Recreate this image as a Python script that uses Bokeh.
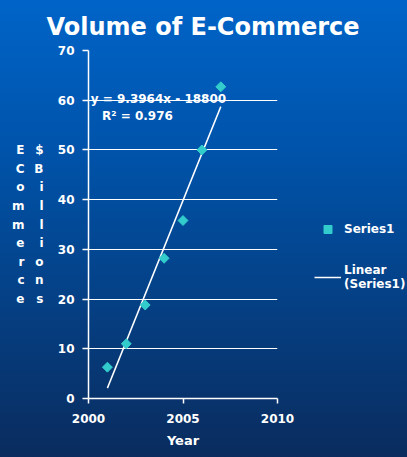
import numpy as np
from bokeh.plotting import figure
from bokeh.models import Label, Legend, LegendItem, FixedTicker, Range1d, LinearAxis
from bokeh.embed import file_html
from bokeh.resources import INLINE

# ---- data ----
years = [2001, 2002, 2003, 2004, 2005, 2006, 2007]
volume = [6.3, 11.0, 18.8, 28.2, 35.8, 50.0, 62.7]
x_ticks = [2000, 2005, 2010]
y_ticks = [0, 10, 20, 30, 40, 50, 60, 70]
title_text = "Volume of E-Commerce"
x_label = "Year"
y_label_1 = "ECommerce"
y_label_2 = "$Billions"
eq_text = "y = 9.3964x - 18800"
r2_text = "R\u00b2 = 0.976"
series_name = "Series1"
trend_name = "Linear\n(Series1)"

FONT = "DejaVu Sans"
WHITE = "#FFFFFF"
TEAL = "#33CCCC"

p = figure(frame_width=189, frame_height=348, output_backend="svg", toolbar_location=None,
           x_range=Range1d(2000, 2010), y_range=Range1d(0, 70),
           min_border_left=88, min_border_right=122,
           min_border_top=50, min_border_bottom=59)
p.styles = {"background": "linear-gradient(180deg, #0064C8 0%, #0052A8 35%, #0A2C5E 100%)"}
p.background_fill_color = None
p.border_fill_color = None
p.outline_line_color = None

# title
p.title.text = title_text
p.title.align = "left"
p.title.offset = -42
p.title.standoff = 20
p.title.text_color = WHITE
p.title.text_font = FONT
p.title.text_font_style = "bold"
p.title.text_font_size = "24px"

# axes
for ax in (p.xaxis[0], p.yaxis[0]):
    ax.axis_line_color = WHITE
    ax.axis_line_width = 1.5
    ax.major_tick_line_color = WHITE
    ax.major_tick_line_width = 1.5
    ax.major_tick_in = 0
    ax.minor_tick_line_color = None
    ax.major_label_text_color = WHITE
    ax.major_label_text_font = FONT
    ax.major_label_text_font_style = "bold"
    ax.major_label_text_font_size = "12px"
    ax.major_label_standoff = 8

p.xaxis.ticker = FixedTicker(ticks=x_ticks)
p.yaxis.ticker = FixedTicker(ticks=y_ticks)
p.xaxis.major_tick_out = 5
p.yaxis.major_tick_out = 6
p.xaxis.major_label_standoff = 10
p.xaxis.axis_label = x_label
p.xaxis.axis_label_text_color = WHITE
p.xaxis.axis_label_text_font = FONT
p.xaxis.axis_label_text_font_style = "bold"
p.xaxis.axis_label_text_font_size = "13px"
p.xaxis.axis_label_standoff = 7

# stacked y-axis titles as label-only axes
for txt, standoff in [(y_label_2, 11), (y_label_1, 7)]:
    ax = LinearAxis(ticker=FixedTicker(ticks=[]), axis_label="\n".join(txt))
    ax.axis_line_color = None
    ax.major_tick_line_color = None
    ax.minor_tick_line_color = None
    ax.axis_label_orientation = "horizontal"
    ax.axis_label_standoff = standoff
    ax.axis_label_text_color = WHITE
    ax.axis_label_text_font = FONT
    ax.axis_label_text_font_style = "bold"
    ax.axis_label_text_font_size = "12px"
    ax.axis_label_text_line_height = 1.33
    ax.axis_label_text_align = "center"
    p.add_layout(ax, "left")

p.xgrid.grid_line_color = None
p.ygrid.grid_line_color = WHITE
p.ygrid.grid_line_width = 1.2

# trend line (least squares fit of the data)
slope, intercept = np.polyfit(years, volume, 1)
tx = [years[0], years[-1]]
ty = [slope * v + intercept for v in tx]
trend = p.line(tx, ty, line_color=WHITE, line_width=1.5)

pts = p.scatter(years, volume, marker="square", angle=np.pi / 4, size=7,
                fill_color=TEAL, line_color=TEAL)

# equation labels
p.add_layout(Label(x=2000.12, y=60.2, text=eq_text, text_align="left", text_baseline="middle",
                   text_color=WHITE, text_font=FONT, text_font_style="bold", text_font_size="12px"))
p.add_layout(Label(x=2002.59, y=56.9, text=r2_text, text_align="center", text_baseline="middle",
                   text_color=WHITE, text_font=FONT, text_font_style="bold", text_font_size="12px"))

legend = Legend(items=[LegendItem(label=series_name, renderers=[pts]),
                       LegendItem(label=trend_name, renderers=[trend])],
                location="top_left", padding=0, margin=37, spacing=24,
                glyph_width=27, label_standoff=3,
                title=" ", title_text_font_size="12px", title_standoff=118,
                border_line_color=None, background_fill_alpha=0,
                label_text_color=WHITE, label_text_font=FONT,
                label_text_font_style="bold", label_text_font_size="12px")
p.add_layout(legend, "right")

open("out.html", "w").write(file_html(p, INLINE))
